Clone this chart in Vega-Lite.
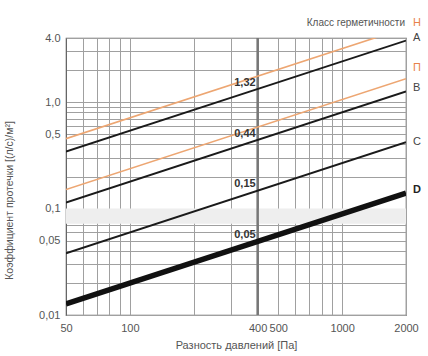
{
  "$schema": "https://vega.github.io/schema/vega-lite/v6.json",
  "width": 340,
  "height": 277,
  "autosize": {"type": "none"},
  "padding": {"left": 66, "top": 38, "right": 22, "bottom": 41},
  "background": "white",
  "config": {
    "font": "Liberation Sans",
    "view": {"stroke": "#666", "strokeWidth": 1.2}
  },
  "datasets": {
    "lines": [
      {"cls": "Н", "p": 50, "q": 0.453},
      {"cls": "Н", "p": 2000, "q": 4.99},
      {"cls": "A", "p": 50, "q": 0.343},
      {"cls": "A", "p": 2000, "q": 3.78},
      {"cls": "П", "p": 50, "q": 0.151},
      {"cls": "П", "p": 2000, "q": 1.66},
      {"cls": "B", "p": 50, "q": 0.114},
      {"cls": "B", "p": 2000, "q": 1.26},
      {"cls": "C", "p": 50, "q": 0.038},
      {"cls": "C", "p": 2000, "q": 0.42},
      {"cls": "D", "p": 50, "q": 0.0127},
      {"cls": "D", "p": 2000, "q": 0.14}
    ],
    "classLabels": [
      {"t": "A", "p": 2000, "q": 4.0, "kind": "black"},
      {"t": "П", "p": 2000, "q": 2.1, "kind": "orange"},
      {"t": "B", "p": 2000, "q": 1.36, "kind": "black"},
      {"t": "C", "p": 2000, "q": 0.42, "kind": "black"},
      {"t": "D", "p": 2000, "q": 0.15, "kind": "bold"}
    ],
    "valueLabels": [
      {"t": "1,32", "p": 400, "q": 1.32},
      {"t": "0,44", "p": 400, "q": 0.44},
      {"t": "0,15", "p": 400, "q": 0.15},
      {"t": "0,05", "p": 400, "q": 0.05}
    ]
  },
  "layer": [
    {
      "data": {"values": [{"p1": 50, "p2": 2000, "q1": 0.072, "q2": 0.1}]},
      "mark": {"type": "rect", "color": "#eeeeee"},
      "encoding": {
        "x": {
          "field": "p1", "type": "quantitative",
          "scale": {"type": "log", "domain": [50, 2000], "nice": false},
          "axis": {
            "values": [50, 60, 70, 80, 90, 100, 200, 300, 400, 500, 600, 700, 800, 900, 1000, 2000],
            "labelExpr": "indexof([50,100,400,500,1000,2000], datum.value) >= 0 ? datum.label : ''",
            "format": "d",
            "grid": true, "gridColor": "#a0a0a0", "gridWidth": 1,
            "ticks": false, "domain": false,
            "labelColor": "#555", "labelFontSize": 11, "labelPadding": 7,
            "labelFlush": false, "labelOverlap": false,
            "title": "Разность давлений [Па]",
            "titleColor": "#555", "titleFontSize": 11, "titleFontWeight": "normal",
            "titlePadding": 6
          }
        },
        "x2": {"field": "p2"},
        "y": {
          "field": "q1", "type": "quantitative",
          "scale": {"type": "log", "domain": [0.01, 4], "nice": false},
          "axis": {
            "values": [0.01, 0.02, 0.03, 0.04, 0.05, 0.06, 0.07, 0.08, 0.09, 0.1, 0.2, 0.3, 0.4, 0.5, 0.6, 0.7, 0.8, 0.9, 1, 2, 3, 4],
            "labelExpr": "datum.value == 4 ? '4.0' : datum.value == 1 ? '1,0' : datum.value == 0.5 ? '0,5' : datum.value == 0.1 ? '0,1' : datum.value == 0.05 ? '0,05' : datum.value == 0.01 ? '0,01' : ''",
            "grid": true, "gridColor": "#a0a0a0", "gridWidth": 1,
            "ticks": false, "domain": true, "domainColor": "#666",
            "labelColor": "#555", "labelFontSize": 11, "labelPadding": 6,
            "labelFlush": false, "labelOverlap": false,
            "title": "Коэффициент протечки [(л/с)/м²]",
            "titleColor": "#555", "titleFontSize": 10.5, "titleFontWeight": "normal",
            "titleX": -52, "titleY": 162, "titleAlign": "center", "titleAngle": -90
          }
        },
        "y2": {"field": "q2"}
      }
    },
    {
      "data": {"values": [{"p": 400}]},
      "mark": {"type": "rule", "color": "#777", "strokeWidth": 2.5},
      "encoding": {"x": {"field": "p", "type": "quantitative"}}
    },
    {
      "data": {"name": "lines"},
      "transform": [{"filter": {"field": "cls", "oneOf": ["Н", "П"]}}],
      "mark": {"type": "line", "clip": true, "color": "#eda672", "strokeWidth": 1.6},
      "encoding": {
        "x": {"field": "p", "type": "quantitative"},
        "y": {"field": "q", "type": "quantitative"},
        "detail": {"field": "cls", "type": "nominal"}
      }
    },
    {
      "data": {"name": "lines"},
      "transform": [{"filter": {"field": "cls", "oneOf": ["A", "B", "C"]}}],
      "mark": {"type": "line", "clip": true, "color": "#1a1a1a", "strokeWidth": 1.9},
      "encoding": {
        "x": {"field": "p", "type": "quantitative"},
        "y": {"field": "q", "type": "quantitative"},
        "detail": {"field": "cls", "type": "nominal"}
      }
    },
    {
      "data": {"name": "lines"},
      "transform": [{"filter": {"field": "cls", "equal": "D"}}],
      "mark": {"type": "line", "clip": true, "color": "#111", "strokeWidth": 5.5},
      "encoding": {
        "x": {"field": "p", "type": "quantitative"},
        "y": {"field": "q", "type": "quantitative"}
      }
    },
    {
      "data": {"name": "classLabels"},
      "transform": [{"filter": {"field": "kind", "equal": "black"}}],
      "mark": {"type": "text", "align": "left", "baseline": "middle", "dx": 7, "fontSize": 11, "color": "#444"},
      "encoding": {
        "x": {"field": "p", "type": "quantitative"},
        "y": {"field": "q", "type": "quantitative"},
        "text": {"field": "t"}
      }
    },
    {
      "data": {"name": "classLabels"},
      "transform": [{"filter": {"field": "kind", "equal": "orange"}}],
      "mark": {"type": "text", "align": "left", "baseline": "middle", "dx": 7, "fontSize": 11, "color": "#e8824a"},
      "encoding": {
        "x": {"field": "p", "type": "quantitative"},
        "y": {"field": "q", "type": "quantitative"},
        "text": {"field": "t"}
      }
    },
    {
      "data": {"name": "classLabels"},
      "transform": [{"filter": {"field": "kind", "equal": "bold"}}],
      "mark": {"type": "text", "align": "left", "baseline": "middle", "dx": 7, "fontSize": 11, "fontWeight": "bold", "color": "#222"},
      "encoding": {
        "x": {"field": "p", "type": "quantitative"},
        "y": {"field": "q", "type": "quantitative"},
        "text": {"field": "t"}
      }
    },
    {
      "data": {"name": "valueLabels"},
      "mark": {"type": "text", "align": "right", "baseline": "alphabetic", "dx": -2, "dy": -3, "fontSize": 11, "fontWeight": "bold", "color": "#333"},
      "encoding": {
        "x": {"field": "p", "type": "quantitative"},
        "y": {"field": "q", "type": "quantitative"},
        "text": {"field": "t"}
      }
    },
    {
      "data": {"values": [{"t": "Класс герметичности", "p": 2000, "q": 4}]},
      "mark": {"type": "text", "align": "right", "baseline": "middle", "dx": -1, "dy": -15, "fontSize": 10, "color": "#555"},
      "encoding": {
        "x": {"field": "p", "type": "quantitative"},
        "y": {"field": "q", "type": "quantitative"},
        "text": {"field": "t"}
      }
    },
    {
      "data": {"values": [{"t": "Н", "p": 2000, "q": 4}]},
      "mark": {"type": "text", "align": "left", "baseline": "middle", "dx": 7, "dy": -15, "fontSize": 11, "color": "#e8824a"},
      "encoding": {
        "x": {"field": "p", "type": "quantitative"},
        "y": {"field": "q", "type": "quantitative"},
        "text": {"field": "t"}
      }
    }
  ]
}
